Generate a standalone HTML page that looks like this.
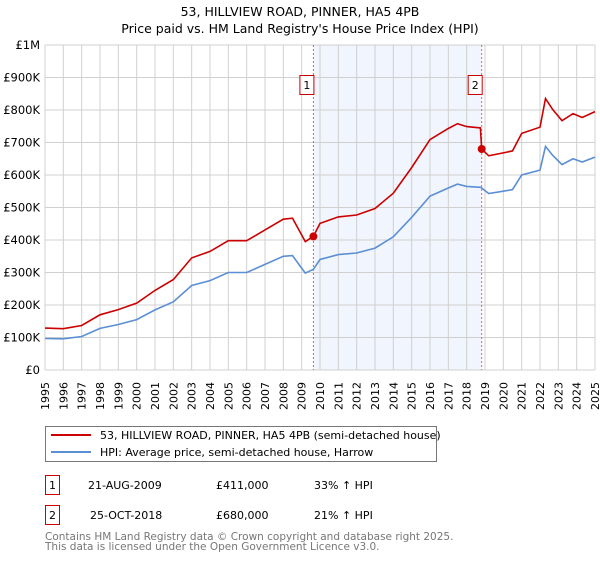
<!DOCTYPE html>
<html><head><meta charset="utf-8"><style>
body{margin:0;background:#fff;font-family:"Liberation Sans","DejaVu Sans",sans-serif;}
svg text{font-family:"DejaVu Sans","Liberation Sans",sans-serif;}
</style></head><body>
<svg id="c" width="600" height="560" xmlns="http://www.w3.org/2000/svg">
<text x="300" y="16" text-anchor="middle" font-size="12.5" fill="#000">53, HILLVIEW ROAD, PINNER, HA5 4PB</text>
<text x="300" y="33" text-anchor="middle" font-size="12.5" fill="#000">Price paid vs. HM Land Registry's House Price Index (HPI)</text>
<g id="plot"></g>
<g>
<rect x="45.5" y="426.5" width="391" height="35" fill="#fff" stroke="#777"/>
<line x1="51" y1="435" x2="91" y2="435" stroke="#cc0000" stroke-width="2"/>
<text x="100" y="439" font-size="11">53, HILLVIEW ROAD, PINNER, HA5 4PB (semi-detached house)</text>
<line x1="51" y1="452" x2="91" y2="452" stroke="#5b8fd4" stroke-width="2"/>
<text x="100" y="456" font-size="11">HPI: Average price, semi-detached house, Harrow</text>
</g>
<g font-size="11">
<rect x="45.5" y="475.5" width="14" height="19" fill="none" stroke="#cc0000"/>
<text x="52.5" y="489" text-anchor="middle">1</text>
<text x="88" y="489">21-AUG-2009</text>
<text x="216" y="489">£411,000</text>
<text x="314" y="489">33% ↑ HPI</text>
<rect x="45.5" y="505.5" width="14" height="19" fill="none" stroke="#cc0000"/>
<text x="52.5" y="519" text-anchor="middle">2</text>
<text x="90" y="519">25-OCT-2018</text>
<text x="216" y="519">£680,000</text>
<text x="314" y="519">21% ↑ HPI</text>
</g>
<text x="45" y="540" font-size="10.5" fill="#777">Contains HM Land Registry data © Crown copyright and database right 2025.</text>
<text x="45" y="550" font-size="10.5" fill="#777">This data is licensed under the Open Government Licence v3.0.</text>
</svg>
<script>
const dates=[1995,1996,1997,1998,1999,2000,2001,2002,2003,2004,2005,2006,2007,2008,2008.5,2009.2,2009.64,2010,2011,2012,2013,2014,2015,2016,2017,2017.5,2018,2018.75,2018.82,2019.2,2020,2020.5,2021,2022,2022.3,2022.7,2023.2,2023.8,2024.3,2025];
const hpiValues=[97,96,103,128,140,155,185,210,260,275,300,300,325,350,352,298,310,340,355,360,375,410,470,535,560,572,565,562,560,543,550,555,600,615,688,660,632,650,640,655];
const propertyValues=[129,127,137,170,186,206,245,278,345,365,398,398,431,464,467,395,411,451,471,477,497,544,623,709,743,758,749,745,680,659,668,674,728,747,835,801,767,789,777,795];
const saleDates=[2009.64,2018.82];
const salePrices=[411,680];
const saleLabels=["1","2"];
const yTicks=[0,100,200,300,400,500,600,700,800,900,1000];
const yTickLabels=["£0","£100K","£200K","£300K","£400K","£500K","£600K","£700K","£800K","£900K","£1M"];
const xYears=[1995,1996,1997,1998,1999,2000,2001,2002,2003,2004,2005,2006,2007,2008,2009,2010,2011,2012,2013,2014,2015,2016,2017,2018,2019,2020,2021,2022,2023,2024,2025];

const NS="http://www.w3.org/2000/svg";
const X0=45,X1=595,Y0=370,Y1=45;
const xs=t=>X0+(t-1995)/30*(X1-X0);
const ys=v=>Y0-v/1000*(Y0-Y1);
const g=document.getElementById('plot');
function mk(tag,at){const e=document.createElementNS(NS,tag);for(const k in at)e.setAttribute(k,at[k]);g.appendChild(e);return e;}

let e=mk('rect',{x:xs(saleDates[0]),y:Y1,width:xs(saleDates[1])-xs(saleDates[0]),height:Y0-Y1,fill:'#eef3fc',opacity:0.8});


xYears.forEach(yr=>{
 const l=mk('line',{x1:xs(yr),x2:xs(yr),y1:Y1,y2:Y0,stroke:'#d0d0d0','stroke-width':1});
 
 
 const t=mk('text',{x:0,y:0,'font-size':11,'text-anchor':'end',transform:`translate(${xs(yr)+4},382) rotate(-90)`});
 t.textContent=yr;
 
 
});
yTicks.forEach((v,i)=>{
 const l=mk('line',{x1:X0,x2:X1,y1:ys(v),y2:ys(v),stroke:'#d0d0d0','stroke-width':1});
 
 
 const t=mk('text',{x:40,y:ys(v)+4,'font-size':11.5,'text-anchor':'end'});
 t.textContent=yTickLabels[i];
 
 
});
saleDates.forEach((d,i)=>{
 const l=mk('line',{x1:xs(d),x2:xs(d),y1:Y1,y2:Y0,stroke:'#e06060','stroke-width':1,'stroke-dasharray':'2,2'});
 
 
 const r=mk('rect',{x:xs(d)-13.5,y:75.5,width:14,height:19,fill:'#fff',stroke:'#cc0000'});
 
 
 const t=mk('text',{x:xs(d)-6.5,y:89,'font-size':11,'text-anchor':'middle'});
 t.textContent=saleLabels[i];
 
 
});
const pts=a=>a.map((v,i)=>xs(dates[i]).toFixed(1)+','+ys(v).toFixed(1)).join(' ');
e=mk('polyline',{points:pts(hpiValues),fill:'none',stroke:'#5b8fd4','stroke-width':1.6});


e=mk('polyline',{points:pts(propertyValues),fill:'none',stroke:'#cc0000','stroke-width':1.6});


saleDates.forEach((d,i)=>{
 const c=mk('circle',{cx:xs(d),cy:ys(salePrices[i]),r:4,fill:'#cc0000'});
 
 
});
</script>
</body></html>
